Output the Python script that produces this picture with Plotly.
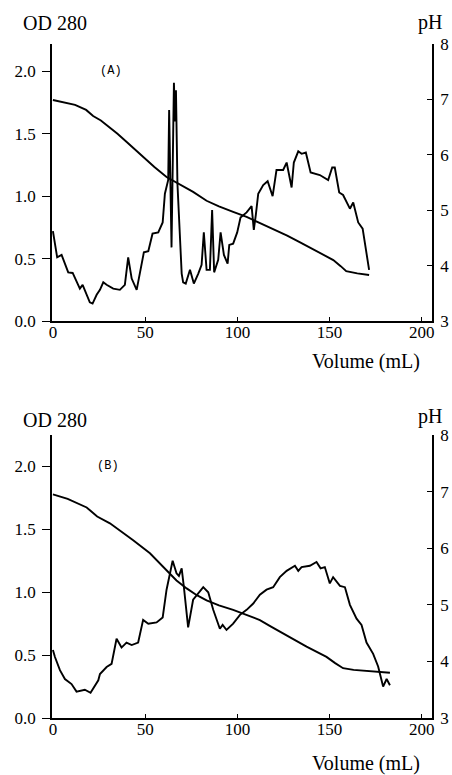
import plotly.graph_objects as go

W, H = 452, 775

# ---------------- Panel A data ----------------
a_od_vol = [0, 1.1, 2.3, 4.7, 6.5, 8.3, 10.7, 12.8, 14.6, 16.1, 17.9, 20, 21.5, 23.7, 25.5, 27.3,
            29.1, 32.7, 36.3, 39, 40.8, 42.7, 45.4, 47.2, 49.3, 51.7, 54, 57.1, 59.5, 60.7, 62.5,
            63, 63.6, 64.3, 65.2, 65.6, 66.2, 66.7, 67.5, 69.8, 70.6, 72, 74.3, 76.4, 78.8, 80.6,
            81.8, 83.3, 85.1, 86.3, 87.4, 89.6, 90.9, 92.7, 94.7, 95.6, 97.7, 99.9, 101.7, 105,
            107.7, 108.9, 110, 111.3, 114, 116.4, 119.1, 121.2, 124.8, 126.7, 129.4, 130.6, 133,
            134.8, 137.1, 139.7, 144.7, 149.2, 151.4, 152.8, 155.2, 157.3, 161, 162.8, 165.5,
            167.9, 171.4]
a_od = [0.72, 0.61, 0.51, 0.53, 0.46, 0.39, 0.385, 0.31, 0.26, 0.29, 0.22, 0.15, 0.14, 0.21, 0.25,
        0.31, 0.29, 0.26, 0.25, 0.29, 0.51, 0.34, 0.25, 0.38, 0.55, 0.56, 0.70, 0.71, 0.79, 1.02,
        1.13, 1.69, 1.0, 0.59, 1.5, 1.91, 1.6, 1.85, 1.1, 0.38, 0.31, 0.30, 0.41, 0.30, 0.38, 0.45,
        0.71, 0.41, 0.41, 0.89, 0.39, 0.49, 0.71, 0.53, 0.46, 0.61, 0.62, 0.71, 0.83, 0.87, 0.92,
        0.73, 0.85, 1.02, 1.09, 1.12, 1.0, 1.21, 1.21, 1.27, 1.07, 1.27, 1.36, 1.34, 1.35, 1.19,
        1.17, 1.13, 1.23, 1.23, 1.03, 1.01, 0.90, 0.95, 0.79, 0.74, 0.41]
a_ph_vol = [0, 4.5, 12, 18, 21.8, 26, 31, 35, 40, 45, 49, 55, 61.6, 68.8, 76, 83.3, 90, 97.7, 105,
            112, 120, 127, 134, 143, 152, 156, 159, 165, 171.4]
a_ph = [6.99, 6.96, 6.90, 6.81, 6.70, 6.62, 6.49, 6.38, 6.23, 6.08, 5.95, 5.78, 5.60, 5.47, 5.33,
        5.17, 5.07, 4.97, 4.88, 4.77, 4.65, 4.54, 4.42, 4.26, 4.10, 3.99, 3.90, 3.86, 3.83]

# ---------------- Panel B data ----------------
b_od_vol = [0, 1.1, 3.8, 6.5, 10.1, 12.8, 17.3, 20.4, 24.6, 25.5, 29.1, 31.8, 34.5, 37.2, 39.9,
            42.7, 46.2, 48.9, 51.7, 56.2, 59.5, 61.6, 64.9, 67, 68.3, 69.8, 71, 73.3, 76, 81.5,
            84.2, 86.9, 90.5, 92, 94.1, 97.7, 101.4, 105, 108.6, 112.2, 115.8, 119.4, 123, 126.7,
            131.2, 133, 134.8, 139.3, 142.9, 145.1, 147.4, 150.1, 151.9, 155.6, 158.3, 161, 164.6,
            167.3, 170, 173.6, 176.3, 179, 180.9, 182.7]
b_od = [0.54, 0.485, 0.38, 0.31, 0.27, 0.21, 0.225, 0.20, 0.30, 0.35, 0.405, 0.43, 0.63, 0.56, 0.60,
        0.58, 0.60, 0.78, 0.75, 0.76, 0.80, 1.02, 1.25, 1.15, 1.13, 1.19, 1.04, 0.72, 0.94, 1.04,
        1.0, 0.86, 0.71, 0.74, 0.70, 0.75, 0.82, 0.86, 0.91, 0.98, 1.02, 1.04, 1.12, 1.17, 1.21,
        1.17, 1.20, 1.21, 1.24, 1.19, 1.20, 1.07, 1.12, 1.05, 1.04, 0.90, 0.79, 0.74, 0.60, 0.51,
        0.41, 0.25, 0.31, 0.26]
b_ph_vol = [0, 8, 18.3, 24, 30.9, 37, 43.5, 52.6, 61.6, 67, 72.5, 78, 83.3, 90, 97.7, 105, 112.2,
            118, 124.8, 131, 137.5, 148.3, 153, 157.3, 163, 170, 182.7]
b_ph = [6.95, 6.87, 6.72, 6.56, 6.44, 6.30, 6.14, 5.91, 5.60, 5.43, 5.29, 5.17, 5.08, 4.99, 4.91,
        4.82, 4.73, 4.62, 4.50, 4.38, 4.26, 4.08, 3.97, 3.88, 3.85, 3.83, 3.80]

x_ticks = [0, 50, 100, 150, 200]
od_ticks = [0.0, 0.5, 1.0, 1.5, 2.0]
od_tick_text = ["0.0", "0.5", "1.0", "1.5", "2.0"]
ph_ticks = [3, 4, 5, 6, 7, 8]

SERIF = "Liberation Serif, Times New Roman, serif"
tickfont = dict(family=SERIF, size=17, color="black")
line = dict(color="black", width=1.9)

fig = go.Figure()
fig.add_trace(go.Scatter(x=a_od_vol, y=a_od, mode="lines", line=line, xaxis="x", yaxis="y"))
fig.add_trace(go.Scatter(x=a_ph_vol, y=a_ph, mode="lines", line=line, xaxis="x", yaxis="y2"))
fig.add_trace(go.Scatter(x=b_od_vol, y=b_od, mode="lines", line=line, xaxis="x2", yaxis="y3"))
fig.add_trace(go.Scatter(x=b_ph_vol, y=b_ph, mode="lines", line=line, xaxis="x2", yaxis="y4"))

xdom = [52 / W, 432 / W]
ydomA = [1 - 321 / H, 1 - 44 / H]
ydomB = [1 - 718 / H, 1 - 435 / H]

xcommon = dict(domain=xdom, range=[-0.5, 205.5], tickvals=x_ticks, showgrid=False, zeroline=False,
               showline=True, linecolor="black", linewidth=1.6, ticks="inside", ticklen=4,
               tickcolor="black", tickfont=tickfont, ticklabelstandoff=-5)
ycommon = dict(tickvals=od_ticks, ticktext=od_tick_text, showgrid=False, zeroline=False, showline=True,
               linecolor="black", linewidth=1.6, ticks="outside", ticklen=8, tickcolor="black",
               tickfont=tickfont, side="left", ticklabelstandoff=3)
phcommon = dict(tickvals=ph_ticks, range=[3, 8], showgrid=False, zeroline=False, showline=True,
                linecolor="black", linewidth=1.6, ticks="inside", ticklen=5, tickcolor="black",
                tickfont=tickfont, side="right", ticklabelstandoff=3)

fig.update_layout(
    width=W, height=H, margin=dict(l=0, r=0, t=0, b=0, autoexpand=False),
    paper_bgcolor="white", plot_bgcolor="white", showlegend=False,
    xaxis=dict(anchor="y", **xcommon),
    yaxis=dict(domain=ydomA, range=[0, 2.22], anchor="x", **ycommon),
    yaxis2=dict(overlaying="y", anchor="x", **phcommon),
    xaxis2=dict(anchor="y3", **xcommon),
    yaxis3=dict(domain=ydomB, range=[0, 2.25], anchor="x2", **ycommon),
    yaxis4=dict(overlaying="y3", anchor="x2", **phcommon),
)

labfont = dict(family=SERIF, size=20, color="black")
def ann(text, x, y, font, xanchor="center"):
    fig.add_annotation(text=text, x=x / W, y=1 - y / H, xref="paper", yref="paper",
                       showarrow=False, font=font, xanchor=xanchor, yanchor="middle")

monofont = dict(family="Liberation Mono, Courier New, monospace", size=12, color="black")
ann("OD 280", 55, 23, labfont)
ann("pH", 430, 22, labfont)
ann("(A)", 111, 71, monofont)
ann("Volume (mL)", 366, 362, labfont)
ann("OD 280", 55, 420, labfont)
ann("pH", 430, 416, labfont)
ann("(B)", 108, 466, monofont)
ann("Volume (mL)", 366, 763, labfont)

fig.write_html(
    "out.html",
    config={"displayModeBar": False},
    post_script=("document.body.style.margin='0';document.body.style.overflow='hidden';"
                 "var d=document.getElementById('{plot_id}');d.style.position='fixed';"
                 "d.style.top='0px';d.style.left='0px';"),
)
